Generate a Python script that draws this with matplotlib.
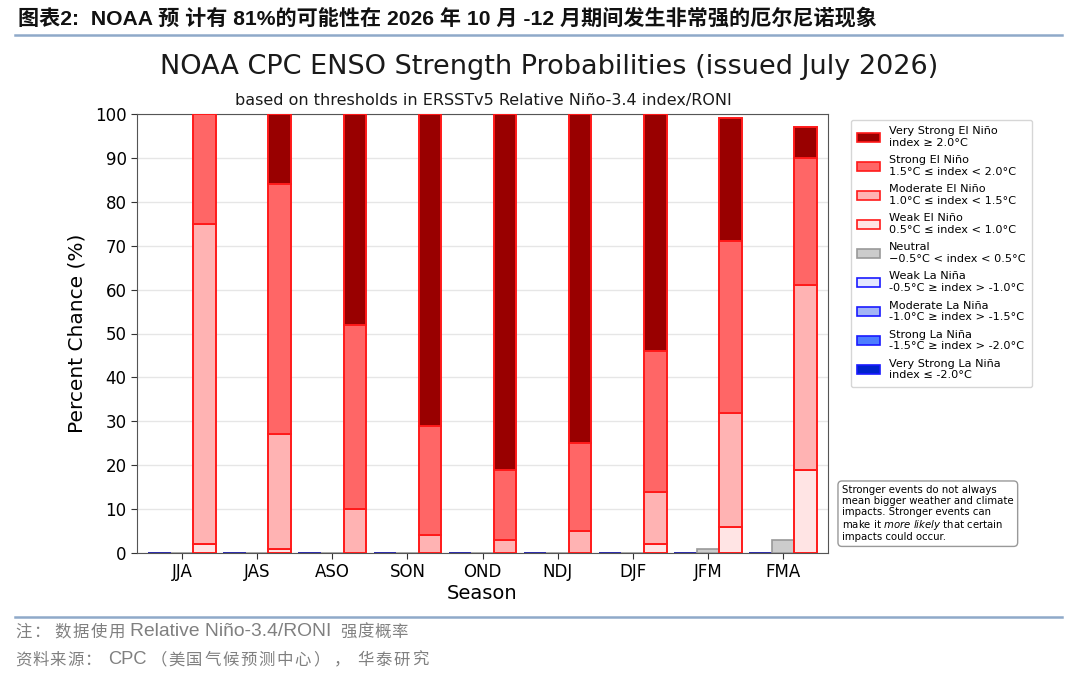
import matplotlib
matplotlib.use("Agg")
import matplotlib.pyplot as plt
import matplotlib.patches as mpatches
import numpy as np

seasons = ["JJA", "JAS", "ASO", "SON", "OND", "NDJ", "DJF", "JFM", "FMA"]
# El Nino categories (percent)
weak_nino = [2, 1, 0, 0, 0, 0, 2, 6, 19]
moderate_nino = [73, 26, 10, 4, 3, 5, 12, 26, 42]
strong_nino = [25, 57, 42, 25, 16, 20, 32, 39, 29]
very_strong_nino = [0, 16, 48, 71, 81, 75, 54, 28, 7]
# Neutral
neutral = [0, 0, 0, 0, 0, 0, 0, 1, 3]
# La Nina categories
weak_nina = [0, 0, 0, 0, 0, 0, 0, 0, 0]
moderate_nina = [0, 0, 0, 0, 0, 0, 0, 0, 0]
strong_nina = [0, 0, 0, 0, 0, 0, 0, 0, 0]
very_strong_nina = [0, 0, 0, 0, 0, 0, 0, 0, 0]

legend_labels = [
    "Very Strong El Niño\nindex ≥ 2.0°C",
    "Strong El Niño\n1.5°C ≤ index < 2.0°C",
    "Moderate El Niño\n1.0°C ≤ index < 1.5°C",
    "Weak El Niño\n0.5°C ≤ index < 1.0°C",
    "Neutral\n−0.5°C < index < 0.5°C",
    "Weak La Niña\n-0.5°C ≥ index > -1.0°C",
    "Moderate La Niña\n-1.0°C ≥ index > -1.5°C",
    "Strong La Niña\n-1.5°C ≥ index > -2.0°C",
    "Very Strong La Niña\nindex ≤ -2.0°C",
]

c_vs_nino = "#990000"
c_s_nino = "#ff6666"
c_m_nino = "#ffb3b3"
c_w_nino = "#ffe4e4"
c_neutral = "#cccccc"
c_w_nina = "#e4e8ff"
c_m_nina = "#a3b5f5"
c_s_nina = "#4d7dff"
c_vs_nina = "#0022cc"

plt.rcParams['font.family'] = ['DejaVu Sans']

fig = plt.figure(figsize=(10.8, 6.77), dpi=100)
ax = fig.add_axes([137/1080, 1-553/677, (828-137)/1080, (553-114)/677])

x = np.arange(len(seasons))
w = 0.3
off = 0.3

# La Nina stack (left)
nina_sets = [(weak_nina, c_w_nina), (moderate_nina, c_m_nina), (strong_nina, c_s_nina), (very_strong_nina, c_vs_nina)]
bottom = np.zeros(len(seasons))
for vals, col in nina_sets:
    ax.bar(x - off, vals, w, bottom=bottom, color=col, edgecolor="#1a1aff", linewidth=1.2, zorder=3)
    bottom += np.array(vals)
ax.bar(x - off, bottom, w, color=c_w_nina, edgecolor="#333399", linewidth=1.2, zorder=3)

# Neutral (center)
ax.bar(x, neutral, w, color=c_neutral, edgecolor="#999999", linewidth=1.2, zorder=3)

# El Nino stack (right)
nino_sets = [(weak_nino, c_w_nino), (moderate_nino, c_m_nino), (strong_nino, c_s_nino), (very_strong_nino, c_vs_nino)]
bottom = np.zeros(len(seasons))
for vals, col in nino_sets:
    v = np.array(vals, dtype=float)
    mask = v > 0
    ax.bar(x[mask] + off, v[mask], w, bottom=bottom[mask], color=col, edgecolor="#ff1a1a", linewidth=1.4, zorder=3)
    bottom += v

ax.set_xlim(-0.6, len(seasons) - 1 + 0.6)
ax.set_ylim(0, 100)
ax.set_yticks(np.arange(0, 101, 10))
ax.set_xticks(x)
ax.set_xticklabels(seasons, fontsize=12)
ax.tick_params(axis='y', labelsize=12, length=4, color="#333333")
ax.tick_params(axis='x', length=4, color="#333333")
ax.yaxis.grid(True, color="#e6e6e6", linewidth=1.0, zorder=0)
ax.set_axisbelow(True)
for s in ax.spines.values():
    s.set_color("#555555")
ax.set_ylabel("Percent Chance (%)", fontsize=14.5, labelpad=6)
ax.set_xlabel("Season", fontsize=14, labelpad=2)

# legend
handles = [
    mpatches.Patch(facecolor=c_vs_nino, edgecolor="#ff1a1a", linewidth=1.2),
    mpatches.Patch(facecolor=c_s_nino, edgecolor="#ff1a1a", linewidth=1.2),
    mpatches.Patch(facecolor=c_m_nino, edgecolor="#ff1a1a", linewidth=1.2),
    mpatches.Patch(facecolor=c_w_nino, edgecolor="#ff1a1a", linewidth=1.2),
    mpatches.Patch(facecolor=c_neutral, edgecolor="#999999", linewidth=1.2),
    mpatches.Patch(facecolor=c_w_nina, edgecolor="#1a1aff", linewidth=1.2),
    mpatches.Patch(facecolor=c_m_nina, edgecolor="#1a1aff", linewidth=1.2),
    mpatches.Patch(facecolor=c_s_nina, edgecolor="#1a1aff", linewidth=1.2),
    mpatches.Patch(facecolor=c_vs_nina, edgecolor="#1a1aff", linewidth=1.2),
]
leg = fig.legend(handles, legend_labels, loc="upper left",
                 bbox_to_anchor=(845/1080, 1-114/677), fontsize=8.1,
                 frameon=True, fancybox=True, edgecolor="#cccccc",
                 handlelength=2.0, handleheight=0.85, labelspacing=0.66,
                 borderpad=0.6, handletextpad=0.8)

# note box
fig.text(842/1080, 1-485/677,
         "Stronger events do not always\nmean bigger weather and climate\nimpacts. Stronger events can\nmake it $\\it{more\\ likely}$ that certain\nimpacts could occur.",
         fontsize=7.25, va="top", ha="left", linespacing=1.1,
         bbox=dict(boxstyle="round,pad=0.4", facecolor="white", edgecolor="#999999", linewidth=1.0))

# titles
fig.text(549/1080, 1-67/677, "NOAA CPC ENSO Strength Probabilities (issued July 2026)",
         fontsize=19.5, ha="center", va="center", color="#1a1a1a")
fig.text(483/1080, 1-101/677, "based on thresholds in ERSSTv5 Relative Niño-3.4 index/RONI",
         fontsize=11.5, ha="center", va="center", color="#1a1a1a")

# header
mix = ['Liberation Sans', 'Noto Sans CJK SC']
fig.text(18/1080, 1-18/677, "图表2:  NOAA 预 计有 81%的可能性在 2026 年 10 月 -12 月期间发生非常强的厄尔尼诺现象",
         fontsize=15.2, fontweight="bold", family=mix, ha="left", va="center", color="#111111")
fig.add_artist(plt.Line2D([15/1080, 1062/1080], [1-35/677, 1-35/677], color="#8fa9c9", linewidth=1.8))
fig.add_artist(plt.Line2D([15/1080, 1062/1080], [1-617/677, 1-617/677], color="#8fa9c9", linewidth=1.8))

# footer, placed segment by segment (CJK glyphs letter-spaced like the original)
grey = "#808080"
cs = 11.8

def foot(xpx, ypx, s, size):
    fig.text(xpx/1080, 1-ypx/677, s, fontsize=size, family=mix, ha="left", va="center", color=grey)

def spaced(xpx, ypx, s, pitch, size=cs):
    for i, ch in enumerate(s):
        foot(xpx + i * pitch, ypx, ch, size)

spaced(15, 632, "注：", 18.5)
spaced(54, 632, "数据使用", 18.3)
foot(130, 632, "Relative Niño-3.4/RONI", 13.9)
spaced(340, 632, "强度概率", 17.2)
spaced(15, 660, "资料来源：", 17.4)
foot(108, 660, "CPC", 13.2)
foot(151, 660, "（", cs)
spaced(168, 660, "美国气候预测中心", 18.1)
foot(313, 660, "）", cs)
foot(334, 660, "，", cs)
spaced(357, 660, "华泰研究", 18.2)

fig.savefig("out.png", dpi=100)
